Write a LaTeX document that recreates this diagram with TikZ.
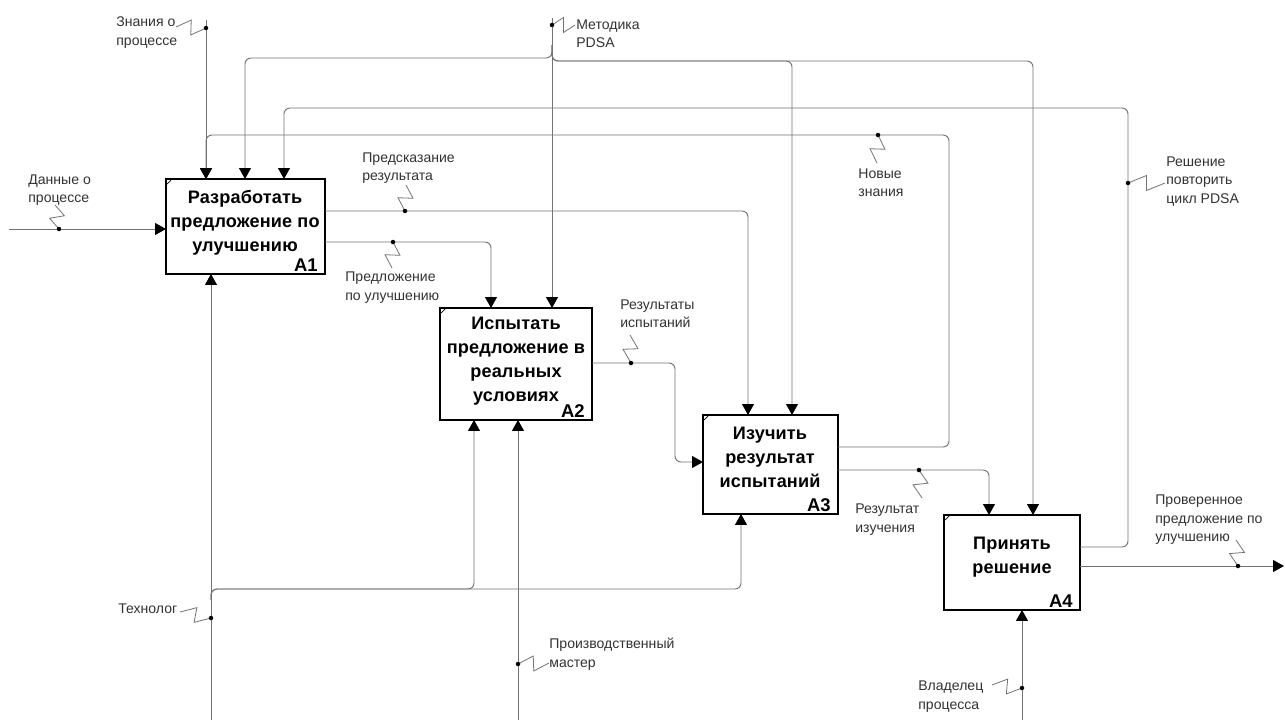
\documentclass[tikz,border=0pt]{standalone}
\usepackage{fontspec}
\setmainfont{Liberation Sans}
\usetikzlibrary{arrows.meta,calc}
\colorlet{wirecol}{black!55}
\colorlet{labcol}{black!80}
\tikzset{
  wire/.style={draw=wirecol, line width=0.55pt, rounded corners=0.12cm},
  arr/.style={-{Triangle[length=0.22cm,width=0.24cm,color=black]}},
  boltline/.style={draw=wirecol, line width=0.45pt},
  box/.style={draw=black, line width=1pt, fill=white, anchor=north west, inner sep=0pt, outer sep=0pt},
  boxtext/.style={font=\fontsize{10.3}{13.6}\selectfont\bfseries\addfontfeature{LetterSpace=0.8}, align=center, inner sep=0pt},
  idx/.style={font=\fontsize{10.5}{11}\selectfont\bfseries, inner sep=0pt, anchor=south east},
  lab/.style={font=\fontsize{8}{10.8}\selectfont, text=labcol, align=left, inner sep=0pt, anchor=north west},
}
\newcommand\bolt[2]{%
  \coordinate (bD) at #1; \coordinate (bE) at #2;
  \coordinate (bM) at ($(bE)!.5!(bD)$);
  \draw[boltline] (bE) -- ($(bM)!0.15cm!90:(bD)$) -- ($(bM)!0.15cm!-90:(bD)$) -- (bD);
  \fill[black] (bD) circle (0.045cm);}
\newcommand\tick[1]{\draw[line width=0.4pt] ($(#1.north west)+(1,5)$) -- ($(#1.north west)+(5,1)$);}
\begin{document}
\begin{tikzpicture}[x=0.02cm,y=-0.02cm]
\useasboundingbox (0,0) rectangle (1285,720);
\fill[white] (0,0) rectangle (1285,720);

% boxes
\node[box, minimum width=3.18cm, minimum height=1.9cm] (A1) at (166,179) {};
\node[box, minimum width=3.04cm, minimum height=2.24cm] (A2) at (440,308) {};
\node[box, minimum width=2.7cm, minimum height=1.98cm] (A3) at (703,415) {};
\node[box, minimum width=2.72cm, minimum height=1.9cm] (A4) at (944,515) {};
\tick{A1}\tick{A2}\tick{A3}\tick{A4}

\node[boxtext] (A1t) at (245,223) {Разработать\\предложение по\\улучшению};
\node[boxtext] (A2t) at (516,361) {Испытать\\предложение в\\реальных\\условиях};
\node[boxtext] (A3t) at (770,457) {Изучить\\результат\\испытаний};
\node[boxtext] (A4t) at (1012,557) {Принять\\решение};
\node[idx] (A1i) at ($(A1.south east)+(-7,-2)$) {A1};
\node[idx] (A2i) at ($(A2.south east)+(-7,-2)$) {A2};
\node[idx] (A3i) at ($(A3.south east)+(-7,-2)$) {A3};
\node[idx] (A4i) at ($(A4.south east)+(-7,-2)$) {A4};

% inputs / outputs
\draw[wire,arr] (9,229) -- (A1.west |- 0,229);
\draw[wire,arr] (206,20) -- (206,0 |- A1.north);
\draw[wire,arr] (A3.east |- 0,447) -- (949,447) -- (949,135) -- (206,135) -- (206,0 |- A1.north);
\draw[wire,arr] (552,18) -- (552,0 |- A2.north);
\draw[wire,arr] (552,45) -- (552,58) -- (245,58) -- (245,0 |- A1.north);
\draw[wire,arr] (552,45) -- (552,61) -- (792,61) -- (792,0 |- A3.north);
\draw[wire,arr] (552,45) -- (552,61) -- (1033,61) -- (1033,0 |- A4.north);
\draw[wire,arr] (A4.east |- 0,547) -- (1128,547) -- (1128,108) -- (284,108) -- (284,0 |- A1.north);
\draw[wire,arr] (A1.east |- 0,211) -- (748,211) -- (748,0 |- A3.north);
\draw[wire,arr] (A1.east |- 0,242) -- (491,242) -- (491,0 |- A2.north);
\draw[wire,arr] (A2.east |- 0,363) -- (675,363) -- (675,462) -- (A3.west |- 0,462);
\draw[wire,arr] (A3.east |- 0,470) -- (989,470) -- (989,0 |- A4.north);
\draw[wire,arr] (A4.east |- 0,566) -- (1284,566);
% mechanisms
\draw[wire,arr] (211,720) -- (211,0 |- A1.south);
\draw[wire,arr] (211,600) -- (211,589) -- (474,589) -- (474,0 |- A2.south);
\draw[wire,arr] (211,600) -- (211,589) -- (741,589) -- (741,0 |- A3.south);
\draw[wire,arr] (518,720) -- (518,0 |- A2.south);
\draw[wire,arr] (1022,720) -- (1022,0 |- A4.south);

% bolts
\bolt{(206,28)}{(176,27)}
\bolt{(552,25)}{(575,25)}
\bolt{(59,229)}{(55,205)}
\bolt{(405,211)}{(406,185)}
\bolt{(393,242)}{(392,268)}
\bolt{(878,135)}{(877,163)}
\bolt{(1128,183)}{(1165,183)}
\bolt{(631,363)}{(630,335)}
\bolt{(919,470)}{(922,498)}
\bolt{(1238,566)}{(1236,540)}
\bolt{(211,618)}{(180,612)}
\bolt{(518,664)}{(549,663)}
\bolt{(1022,688)}{(992,685)}

% labels
\node[lab] (l1) at (116,16) {Знания о\\процессе};
\node[lab] (l2) at (576,19) {Методика\\PDSA};
\node[lab] (l3) at (28,174) {Данные о\\процессе};
\node[lab] (l4) at (362,152) {Предсказание\\результата};
\node[lab] (l5) at (345,271) {Предложение\\по улучшению};
\node[lab] (l6) at (858,168) {Новые\\знания};
\node[lab] (l7) at (1166,156) {Решение\\повторить\\цикл PDSA};
\node[lab] (l8) at (620,299) {Результаты\\испытаний};
\node[lab] (l9) at (855,503) {Результат\\изучения};
\node[lab] (l10) at (1155,494) {Проверенное\\предложение по\\улучшению};
\node[lab] (l11) at (118,603) {Технолог};
\node[lab] (l12) at (549,638) {Производственный\\мастер};
\node[lab] (l13) at (918,680) {Владелец\\процесса};
\end{tikzpicture}
\end{document}
